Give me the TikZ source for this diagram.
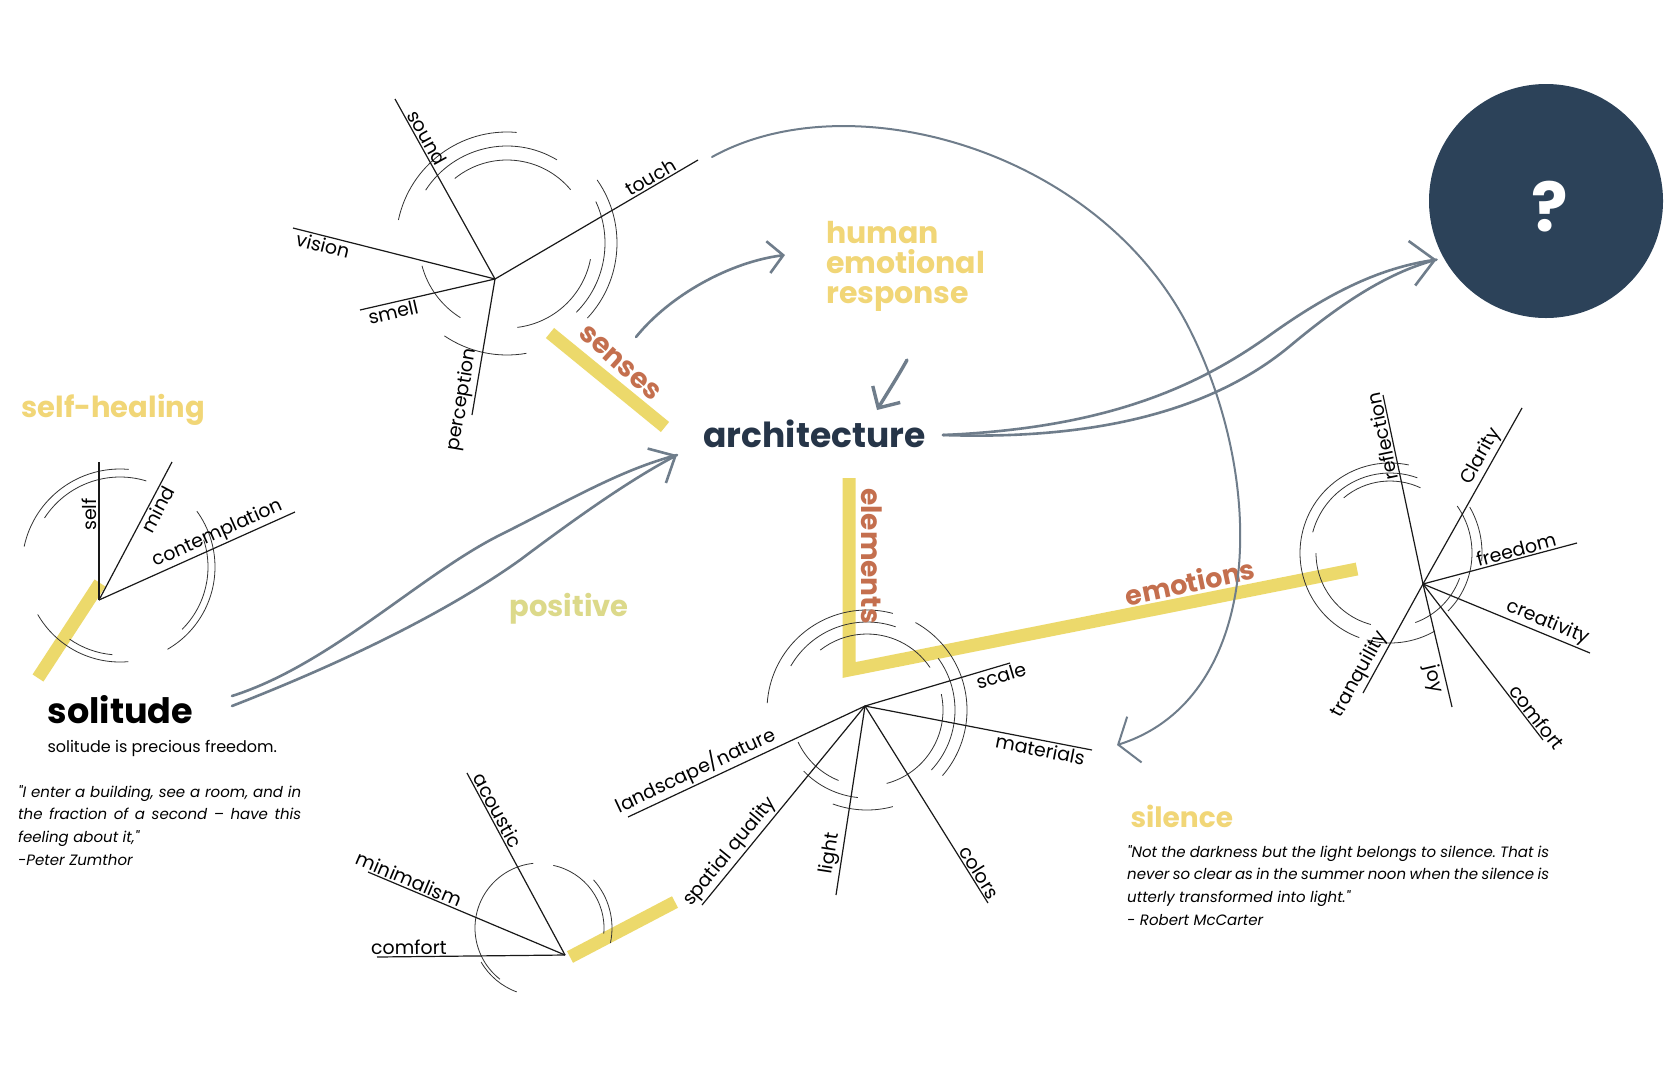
\documentclass[tikz,border=0pt]{standalone}
\usepackage{fontspec}
\setmainfont{Poppins}[Ligatures=TeXOff]
\usepackage{tikz}
\usetikzlibrary{arrows.meta,positioning}

\definecolor{barcol}{HTML}{EBD55B}
\definecolor{softyellow}{HTML}{F1D677}
\definecolor{posyellow}{HTML}{DCD98A}
\definecolor{rust}{HTML}{C46F4E}
\definecolor{navy}{HTML}{2C4259}
\definecolor{navytext}{HTML}{263548}
\definecolor{flowgray}{HTML}{6F7D8B}

\newcommand\fsz[1]{\fontsize{#1}{#1}\selectfont}
\frenchspacing

\tikzset{
  spoke/.style={draw=black!90, line width=1.2pt},
  ring/.style={draw=black!80, line width=.8pt},
  bar/.style={draw=barcol, line width=13pt, opacity=.9},
  lbl/.style={font=\fsz{19}, sloped, inner sep=1.5pt},
  flow/.style={draw=flowgray, line width=2.6pt, line cap=round},
  quote/.style={anchor=north west, align=justify, inner sep=0pt,
    font=\itshape\fontsize{15}{22.8}\selectfont}
}

\begin{document}
\begin{tikzpicture}[x=1pt,y=1pt]
\useasboundingbox (0,0) rectangle (1676,-1080);
\fill[white] (0,0) rectangle (1676,-1080);

% yellow bars
\draw[bar] (550,-333) -- (665,-427);
\draw[bar] (100,-583) -- (38,-678);
\draw[bar] (849,-478) -- (849,-670) -- (1357,-569);
\draw[bar] (570,-957) -- (675,-902);

% senses dial
\coordinate (h1) at (495,-279);
\coordinate (c1) at (507,-243);
\foreach \rad/\sa/\ea in {111/85/168, 97/59/147, 83/40/129, 110/-43/35,
    98/-45/25, 85/-83/-11, 112/236/280, 88/195/238}
  \draw[ring] (c1) ++(\sa:\rad) arc[start angle=\sa, end angle=\ea, radius=\rad];
\draw[spoke] (h1) -- node[lbl,pos=.76,above] (lsound) {sound} (395,-99);
\draw[spoke] (h1) -- node[lbl,pos=.79,above] (ltouch) {touch} (698,-160);
\draw[spoke] (h1) -- node[lbl,pos=.84,below] (lvision) {vision} (293,-228);
\draw[spoke] (h1) -- node[lbl,pos=.77,below] (lsmell) {smell} (360,-310);
\draw[spoke] (h1) -- node[lbl,pos=.9,above] (lperc) {perception} (472,-415);

% solitude dial
\coordinate (h2) at (99,-600);
\coordinate (c2) at (120,-567);
\foreach \rad/\sa/\ea in {98/85/168, 90/73/147, 95/-60/36, 88/-45/18,
    95/210/275, 88/235/265}
  \draw[ring] (c2) ++(\sa:\rad) arc[start angle=\sa, end angle=\ea, radius=\rad];
\draw[spoke] (h2) -- node[lbl,pos=.62,above] (lself) {self} (99,-462);
\draw[spoke] (h2) -- node[lbl,pos=.69,below] (lmind) {mind} (172,-462);
\draw[spoke] (h2) -- node[lbl,pos=.63,above] (lcont) {contemplation} (295,-512);

% elements dial
\coordinate (h3) at (865,-706);
\coordinate (c3) at (867,-710);
\foreach \rad/\sa/\ea in {100/75/176, 100/-41/61, 100/250/285, 88/71/150,
    88/-43/36, 88/224/264, 76/34/128, 76/-75/12, 76/205/248}
  \draw[ring] (c3) ++(\sa:\rad) arc[start angle=\sa, end angle=\ea, radius=\rad];
\draw[spoke] (h3) -- node[lbl,pos=.92,below] (lscale) {scale} (1010,-663);
\draw[spoke] (h3) -- node[lbl,pos=.78,below] (lmat) {materials} (1092,-750);
\draw[spoke] (h3) -- node[lbl,pos=.87,above] (lcol) {colors} (988,-903);
\draw[spoke] (h3) -- node[lbl,pos=.79,above] (llight) {light} (836,-895);
\draw[spoke] (h3) -- node[lbl,pos=.77,above] (lspat) {spatial quality} (702,-905);
\draw[spoke] (h3) -- node[lbl,pos=.69,above] (lland) {landscape/nature} (628,-817);

% bottom dial
\coordinate (h4) at (565,-955);
\coordinate (c4) at (540,-928);
\foreach \rad/\sa/\ea in {65/96/232, 68/210/250, 64/-5/78, 72/-12/42}
  \draw[ring] (c4) ++(\sa:\rad) arc[start angle=\sa, end angle=\ea, radius=\rad];
\draw[spoke] (h4) -- node[lbl,pos=.77,above] (lacou) {acoustic} (467,-773);
\draw[spoke] (h4) -- node[lbl,pos=.81,above] (lmini) {minimalism} (368,-872);
\draw[spoke] (h4) -- node[lbl,pos=.83,above] (lcomf) {comfort} (377,-957);

% emotions dial
\coordinate (h5) at (1423,-584);
\coordinate (c5) at (1390,-553);
\foreach \rad/\sa/\ea in {90/78/250, 80/70/165, 72/65/130, 74/180/255,
    92/-5/30, 82/-45/35, 74/-70/-20, 90/255/300}
  \draw[ring] (c5) ++(\sa:\rad) arc[start angle=\sa, end angle=\ea, radius=\rad];
\draw[spoke] (h5) -- node[lbl,pos=.79,above,allow upside down] (lrefl) {reflection} (1383,-395);
\draw[spoke] (h5) -- node[lbl,pos=.75,below] (ljoy) {joy} (1452,-707);
\draw[spoke] (h5) -- node[lbl,pos=.69,above] (lclar) {Clarity} (1522,-408);
\draw[spoke] (h5) -- node[lbl,pos=.62,above] (lfree) {freedom} (1577,-543);
\draw[spoke] (h5) -- node[lbl,pos=.72,above] (lcrea) {creativity} (1590,-653);
\draw[spoke] (h5) -- node[lbl,pos=.89,above] (lcomf2) {comfort} (1543,-740);
\draw[spoke] (h5) -- node[lbl,pos=.88,above] (ltran) {tranquility} (1363,-693);

% bar labels
\node[text=rust, font=\bfseries\fsz{28}, rotate=-42] (senses) at (620,-363) {senses};
\node[text=rust, font=\bfseries\fsz{28}, rotate=-90] (elem) at (872,-556) {elements};
\node[text=rust, font=\bfseries\fsz{27}, rotate=12] (emo) at (1190,-582) {emotions};

% main words
\node[anchor=base west, text=navytext, font=\bfseries\fsz{34.5}] (arch) at (700,-447) {architecture};
\node[anchor=north west, align=left, inner sep=0pt, text=softyellow,
  font=\bfseries\fontsize{30}{30}\selectfont] (human) at (826,-221) {human\\emotional\\response};
\node[circle, fill=navy, minimum size=234pt, inner sep=0pt] (q) at (1546,-201) {};
\node[text=white, font=\bfseries\fsz{68}] (qm) at ([shift={(4,-6)}]q.center) {?};
\node[anchor=base west, text=softyellow, font=\bfseries\fsz{29}] (heal) at (18,-417) {self-healing};
\node[text=posyellow, font=\bfseries\fsz{29}] (pos) at (569,-609) {positive};
\node[anchor=base west, font=\bfseries\fsz{35}] (sol) at (44,-723) {solitude};
\node[anchor=base west, font=\fsz{16}] (solsub) at (44,-752) {solitude is precious freedom.};
\node[quote, text width=283pt] (zq) at (18,-785)
  {"I enter a building, see a room, and in\linebreak the fraction of a second – have this\linebreak feeling about it,"\\-Peter Zumthor};
\node[anchor=base west, text=softyellow, font=\bfseries\fsz{28}] (sil) at (1127,-827) {silence};
\node[quote, text width=422pt] (mq) at (1127,-845)
  {"Not the darkness but the light belongs to silence. That is\linebreak never so clear as in the summer noon when the silence is\linebreak utterly transformed into light."\\- Robert McCarter};

% flows
\coordinate (snsOut) at (636,-337);
\coordinate (hmIn) at (785,-255);
\coordinate (hmOut) at (907,-360);
\coordinate (archIn) at (877,-410);
\coordinate (archOut) at (943,-435);
\coordinate (solOut) at (232,-701);
\coordinate (archIn2) at (677,-455);
\coordinate (touchOut) at (712,-157);
\coordinate (matIn) at (1117,-745);

\draw[flow, -{Straight Barb[length=15pt,width=32pt]}] (snsOut)
  .. controls (670,-295) and (730,-262) .. (hmIn);
\draw[flow, line width=3.4pt, -{Straight Barb[length=16pt,width=32pt]}] (hmOut)
  .. controls (897,-378) and (886,-395) .. (archIn);
\draw[flow] (archOut) .. controls (1120,-441) and (1225,-400) .. (1290,-346)
  .. controls (1345,-300) and (1390,-272) .. ([xshift=-8pt]q.210);
\draw[flow, -{Straight Barb[length=23pt,width=45pt]}] (archOut)
  .. controls (1110,-428) and (1200,-385) .. (1270,-335)
  .. controls (1330,-292) and (1380,-268) .. ([xshift=-8pt]q.210);
\draw[flow] ([yshift=5pt]solOut) .. controls (330,-665) and (420,-575) .. (500,-535)
  .. controls (570,-500) and (620,-470) .. (archIn2);
\draw[flow, -{Straight Barb[length=21pt,width=39pt]}] ([yshift=-5pt]solOut)
  .. controls (350,-660) and (450,-610) .. (520,-560)
  .. controls (580,-515) and (630,-480) .. (archIn2);
\draw[flow, line width=2pt, -{Straight Barb[length=17pt,width=48pt]}] (touchOut)
  .. controls (850,-80) and (1100,-150) .. (1190,-330)
  .. controls (1270,-490) and (1260,-700) .. (matIn);
\end{tikzpicture}
\end{document}
